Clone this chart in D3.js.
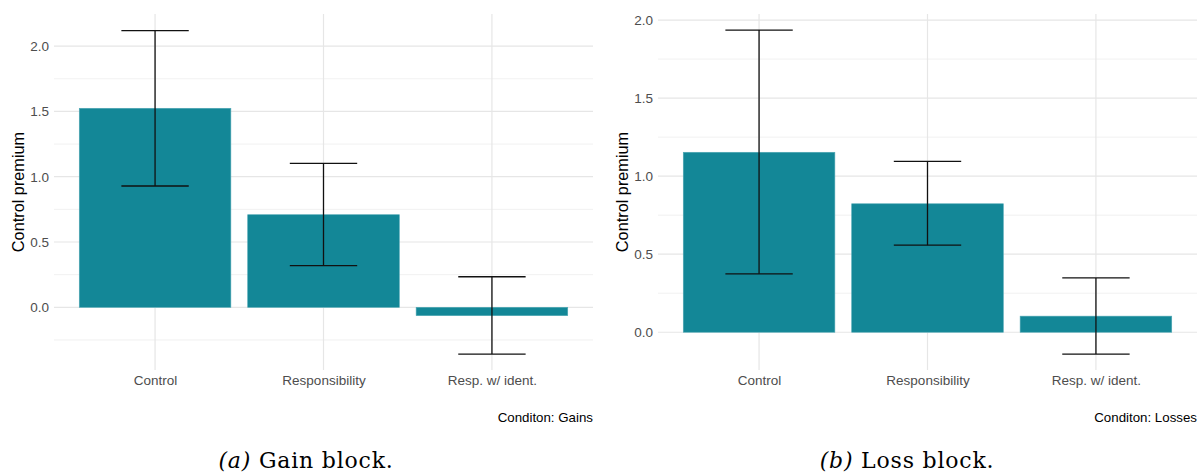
<!DOCTYPE html>
<html>
<head>
<meta charset="utf-8">
<script src="https://cdn.jsdelivr.net/npm/d3@7"></script>
<style>
  body { margin: 0; background: #fff; }
  svg text { font-family: "Liberation Sans", Arial, sans-serif; }
</style>
</head>
<body>
<div id="chart"></div>
<script>
const categories = ["Control", "Responsibility", "Resp. w/ ident."];

const gainMeans = [1.524, 0.709, -0.064];
const gainLower = [0.929, 0.319, -0.358];
const gainUpper = [2.118, 1.102, 0.234];

const lossMeans = [1.153, 0.823, 0.103];
const lossLower = [0.374, 0.558, -0.140];
const lossUpper = [1.936, 1.095, 0.348];

const gainTicks = [0, 0.5, 1, 1.5, 2];
const lossTicks = [0, 0.5, 1, 1.5, 2];

const w = 1198;
const h = 475;

const svg = d3.select("#chart")
  .append("svg")
  .attr("width", w)
  .attr("height", h);

function drawPanel(opts) {
  const g = svg.append("g");
  const left = opts.left, right = opts.right, top = 14, bottom = 370;

  // ggplot-like discrete expansion: 0.6 on each side
  const xScale = d3.scaleLinear()
    .domain([0.4, categories.length + 0.6])
    .range([left, right]);

  const yScale = d3.scaleLinear()
    .domain(opts.yDomain)
    .range([bottom, top]);

  // minor gridlines
  const minor = gridMinor(opts.ticks, opts.yDomain);
  g.selectAll(".minor")
    .data(minor)
    .enter()
    .append("line")
    .attr("x1", left).attr("x2", right)
    .attr("y1", (d) => yScale(d)).attr("y2", (d) => yScale(d))
    .attr("stroke", "#ebebeb")
    .attr("stroke-width", 0.7);

  // major gridlines
  g.selectAll(".major")
    .data(opts.ticks)
    .enter()
    .append("line")
    .attr("x1", left).attr("x2", right)
    .attr("y1", (d) => yScale(d)).attr("y2", (d) => yScale(d))
    .attr("stroke", "#e6e6e6")
    .attr("stroke-width", 1.2);

  g.selectAll(".vgrid")
    .data(categories)
    .enter()
    .append("line")
    .attr("x1", (d, i) => xScale(i + 1)).attr("x2", (d, i) => xScale(i + 1))
    .attr("y1", top).attr("y2", bottom)
    .attr("stroke", "#e6e6e6")
    .attr("stroke-width", 1.2);

  // bars
  g.selectAll(".bar")
    .data(opts.means)
    .enter()
    .append("rect")
    .attr("x", (d, i) => xScale(i + 1 - 0.45))
    .attr("width", xScale(0.9) - xScale(0))
    .attr("y", (d) => yScale(Math.max(0, d)))
    .attr("height", (d) => Math.abs(yScale(d) - yScale(0)))
    .attr("fill", "#138797")
    .attr("stroke", "#4ea7b4")
    .attr("stroke-width", 0.6);

  // error bars
  const eb = g.selectAll(".err")
    .data(opts.means.map((m, i) => ({ i: i, lo: opts.lower[i], hi: opts.upper[i] })))
    .enter()
    .append("g")
    .attr("stroke", "#111")
    .attr("stroke-width", 1.3);
  eb.append("line")
    .attr("x1", (d) => xScale(d.i + 1)).attr("x2", (d) => xScale(d.i + 1))
    .attr("y1", (d) => yScale(d.lo)).attr("y2", (d) => yScale(d.hi));
  eb.append("line")
    .attr("x1", (d) => xScale(d.i + 0.8)).attr("x2", (d) => xScale(d.i + 1.2))
    .attr("y1", (d) => yScale(d.hi)).attr("y2", (d) => yScale(d.hi));
  eb.append("line")
    .attr("x1", (d) => xScale(d.i + 0.8)).attr("x2", (d) => xScale(d.i + 1.2))
    .attr("y1", (d) => yScale(d.lo)).attr("y2", (d) => yScale(d.lo));

  // y axis labels
  const yAxis = d3.axisLeft(yScale)
    .tickValues(opts.ticks)
    .tickFormat(d3.format(".1f"))
    .tickSize(0)
    .tickPadding(5);
  const ya = g.append("g")
    .attr("transform", `translate(${left}, 0)`)
    .call(yAxis);
  ya.select(".domain").remove();
  ya.selectAll("text")
    .attr("fill", "#4d4d4d")
    .style("font-size", "13.5px")
    .style("font-family", "Liberation Sans, Arial, sans-serif");

  // x axis labels
  const xAxis = d3.axisBottom(xScale)
    .tickValues([1, 2, 3])
    .tickFormat((d) => categories[d - 1])
    .tickSize(0)
    .tickPadding(5);
  const xa = g.append("g")
    .attr("transform", `translate(0, ${bottom})`)
    .call(xAxis);
  xa.select(".domain").remove();
  xa.selectAll("text")
    .attr("fill", "#4d4d4d")
    .style("font-size", "13.5px")
    .style("font-family", "Liberation Sans, Arial, sans-serif");

  // axis title
  g.append("text")
    .attr("transform", `translate(${opts.titleX}, ${(top + bottom) / 2}) rotate(-90)`)
    .attr("text-anchor", "middle")
    .attr("dy", "0.35em")
    .attr("fill", "#000")
    .style("font-size", "16.3px")
    .text("Control premium");

  // caption
  g.append("text")
    .attr("x", right)
    .attr("y", 422)
    .attr("text-anchor", "end")
    .attr("fill", "#000")
    .style("font-size", "13.3px")
    .text(opts.caption);

  // subfigure label
  const sub = g.append("text")
    .attr("x", opts.subX)
    .attr("y", 468)
    .attr("text-anchor", "middle")
    .attr("fill", "#000")
    .style("font-family", "DejaVu Serif, serif")
    .style("font-size", "22px")
    .style("letter-spacing", "0.8px");
  sub.append("tspan").style("font-style", "italic").text(opts.subTag);
  sub.append("tspan").text(" " + opts.subText);
}

function gridMinor(ticks, domain) {
  const step = ticks[1] - ticks[0];
  const out = [];
  for (let v = ticks[0] - step / 2; v >= domain[0]; v -= step) out.push(v);
  for (let i = 0; i < ticks.length; i++) {
    const v = ticks[i] + step / 2;
    if (v <= domain[1]) out.push(v);
  }
  return out;
}

drawPanel({
  left: 54, right: 593,
  yDomain: [-0.48, 2.246],
  ticks: gainTicks,
  means: gainMeans, lower: gainLower, upper: gainUpper,
  titleX: 18,
  caption: "Conditon: Gains",
  subX: 306, subTag: "(a)", subText: "Gain block."
});

drawPanel({
  left: 658, right: 1197,
  yDomain: [-0.242, 2.039],
  ticks: lossTicks,
  means: lossMeans, lower: lossLower, upper: lossUpper,
  titleX: 622,
  caption: "Conditon: Losses",
  subX: 907, subTag: "(b)", subText: "Loss block."
});
</script>
</body>
</html>
